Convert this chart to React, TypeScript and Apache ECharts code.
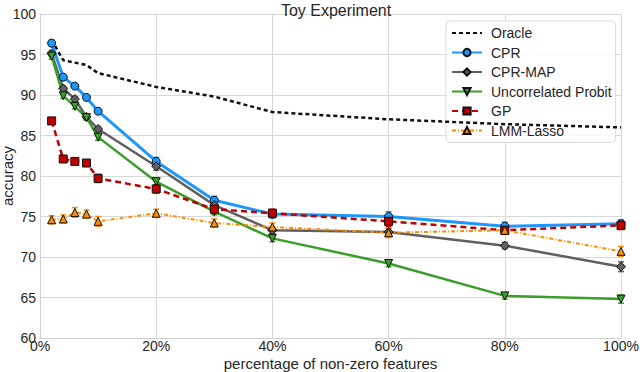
import React, { useEffect, useRef } from "react";
import * as echarts from "echarts";

const xPercents = [2, 4, 6, 8, 10, 20, 30, 40, 60, 80, 100];
const oracle = [96.8, 94.3, 94.0, 93.7, 92.7, 91.0, 89.8, 87.9, 87.0, 86.4, 86.0];
const cpr = [96.4, 92.2, 91.1, 89.7, 88.0, 81.8, 77.0, 75.3, 75.0, 73.8, 74.1];
const cprErr = [0.4, 0.3, 0.3, 0.3, 0.3, 0.5, 0.5, 0.5, 0.6, 0.5, 0.5];
const cprMap = [95.1, 90.8, 89.5, 87.3, 85.8, 81.2, 76.4, 73.3, 73.1, 71.4, 68.8];
const cprMapErr = [0.4, 0.3, 0.3, 0.3, 0.3, 0.5, 0.5, 0.4, 0.4, 0.4, 0.6];
const probit = [94.8, 89.9, 88.6, 87.2, 84.8, 79.3, 75.6, 72.3, 69.2, 65.2, 64.8];
const probitErr = [0.4, 0.3, 0.3, 0.3, 0.4, 0.4, 0.4, 0.4, 0.4, 0.4, 0.5];
const gp = [86.8, 82.1, 81.8, 81.6, 79.7, 78.4, 75.9, 75.4, 74.4, 73.3, 73.9];
const gpErr = [0.4, 0.4, 0.4, 0.4, 0.5, 0.5, 0.5, 0.5, 0.6, 0.5, 0.5];
const lmm = [74.6, 74.7, 75.5, 75.3, 74.4, 75.4, 74.2, 73.7, 73.0, 73.3, 70.7];
const lmmErr = [0.5, 0.5, 0.6, 0.5, 0.6, 0.5, 0.5, 0.5, 0.6, 0.5, 0.6];
const yTicks = { min: 60, max: 100, interval: 5 };
const xTicks = { min: 0, max: 100, interval: 20 };

const FONT = "Liberation Sans, Arial, sans-serif";
const TXT = "#262626";

function pairs(vals: number[]) {
  return xPercents.map((x, i) => [x, vals[i]]);
}

function errSeries(name: string, vals: number[], errs: number[], color: string) {
  return {
    type: "custom",
    name: name + " err",
    z: 3,
    data: xPercents.map((x, i) => [x, vals[i], errs[i]]),
    renderItem: (params: any, api: any) => {
      const x = api.value(0);
      const y = api.value(1);
      const e = api.value(2);
      const lo = api.coord([x, y - e]);
      const hi = api.coord([x, y + e]);
      const cap = 3;
      const style = { stroke: color, lineWidth: 1.5 };
      return {
        type: "group",
        children: [
          { type: "line", shape: { x1: lo[0], y1: lo[1], x2: hi[0], y2: hi[1] }, style },
          { type: "line", shape: { x1: lo[0] - cap, y1: lo[1], x2: lo[0] + cap, y2: lo[1] }, style },
          { type: "line", shape: { x1: hi[0] - cap, y1: hi[1], x2: hi[0] + cap, y2: hi[1] }, style },
        ],
      };
    },
  };
}

function lineSeries(name: string, vals: number[], color: string, opts: any) {
  return {
    type: "line",
    name,
    data: pairs(vals),
    z: 4,
    symbol: opts.symbol,
    symbolSize: opts.size ?? 8,
    symbolRotate: opts.rotate ?? 0,
    showSymbol: opts.show ?? true,
    lineStyle: { color, width: opts.width ?? 2.5, type: opts.dash ?? "solid" },
    itemStyle: { color, borderColor: "#111", borderWidth: 1 },
    emphasis: { disabled: true },
  };
}

export default function App() {
  const ref = useRef<HTMLDivElement>(null);
  useEffect(() => {
    if (!ref.current) return;
    const chart = echarts.init(ref.current, undefined, { renderer: "svg" });
    const blue = "#1e96fc";
    const gray = "#606060";
    const green = "#3a9e2a";
    const red = "#c00000";
    const orange = "#ff8c00";
    chart.setOption({
      animation: false,
      backgroundColor: "#fff",
      title: {
        text: "Toy Experiment",
        left: 331,
        textAlign: "center",
        top: -3,
        textStyle: { fontFamily: FONT, fontSize: 16, fontWeight: "normal", color: TXT },
      },
      grid: { left: 40, right: 19, top: 14, bottom: 34, outerBoundsMode: "none", containLabel: false },
      xAxis: {
        type: "value",
        ...xTicks,
        name: "percentage of non-zero features",
        nameLocation: "middle",
        nameGap: 18,
        nameMoveOverlap: false,
        nameTextStyle: { fontFamily: FONT, fontSize: 15, color: TXT, lineHeight: 15 },
        axisLine: { show: true, lineStyle: { color: "#d0d0d0", width: 1 } },
        axisTick: { show: false },
        axisLabel: { formatter: "{value}%", fontFamily: FONT, fontSize: 14, color: TXT, margin: 1, lineHeight: 14 },
        splitLine: { show: true, lineStyle: { color: "#d8d8d8", width: 1 } },
      },
      yAxis: {
        type: "value",
        ...yTicks,
        name: "accuracy",
        nameLocation: "middle",
        nameGap: 26,
        nameMoveOverlap: false,
        nameTextStyle: { fontFamily: FONT, fontSize: 15, color: TXT, lineHeight: 14 },
        axisLine: { show: true, lineStyle: { color: "#d0d0d0", width: 1 } },
        axisTick: { show: false },
        axisLabel: { fontFamily: FONT, fontSize: 14, color: TXT, margin: 4, lineHeight: 14 },
        splitLine: { show: true, lineStyle: { color: "#d8d8d8", width: 1 } },
      },
      legend: {
        data: [
          { name: "Oracle", itemStyle: { opacity: 0 } },
          "CPR",
          "CPR-MAP",
          "Uncorrelated Probit",
          "GP",
          "LMM-Lasso",
        ],
        orient: "vertical",
        left: 446,
        top: 21,
        padding: [5, 4, 5, 5],
        itemWidth: 30,
        itemHeight: 9,
        itemGap: 5.5,
        backgroundColor: "rgba(255,255,255,0.8)",
        borderColor: "#dcdcdc",
        borderWidth: 1,
        borderRadius: 4,
        textStyle: { fontFamily: FONT, fontSize: 14, color: TXT, padding: [0, 0, 0, 4], lineHeight: 14 },
      },
      series: [
        lineSeries("Oracle", oracle, "#111", { symbol: "circle", show: false, dash: [4, 3], width: 2.5 }),
        errSeries("CPR", cpr, cprErr, blue),
        lineSeries("CPR", cpr, blue, { symbol: "circle", size: 8, width: 3 }),
        errSeries("CPR-MAP", cprMap, cprMapErr, gray),
        lineSeries("CPR-MAP", cprMap, gray, { symbol: "diamond", size: 9, width: 2.5 }),
        errSeries("Uncorrelated Probit", probit, probitErr, green),
        lineSeries("Uncorrelated Probit", probit, green, { symbol: "triangle", rotate: 180, size: 8, width: 2.5 }),
        errSeries("GP", gp, gpErr, red),
        lineSeries("GP", gp, red, { symbol: "rect", size: 8, width: 2.5, dash: [6, 4] }),
        errSeries("LMM-Lasso", lmm, lmmErr, orange),
        lineSeries("LMM-Lasso", lmm, orange, { symbol: "triangle", size: 8, width: 2, dash: [4, 2, 1, 2] }),
      ],
    });
    return () => chart.dispose();
  }, []);
  return <div ref={ref} style={{ width: 640, height: 372, position: "absolute", left: 0, top: 0 }} />;
}
